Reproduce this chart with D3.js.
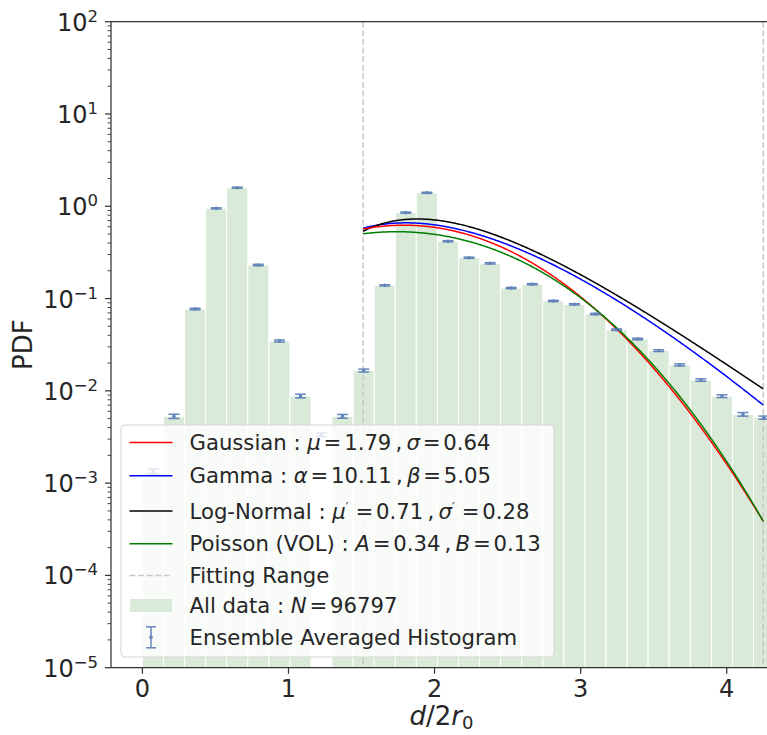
<!DOCTYPE html>
<html>
<head>
<meta charset="utf-8">
<script src="https://cdn.jsdelivr.net/npm/d3@7"></script>
<style>
  body { margin: 0; background: #ffffff; }
  svg { display: block; }
  text { font-family: "DejaVu Sans", sans-serif; fill: #262626; }
</style>
</head>
<body>
<svg id="chart" width="767" height="735"></svg>
<script>
// ---- histogram bins (left edges, d/2r0) ----
const binLeft = [0.000, 0.144, 0.289, 0.433, 0.577, 0.721, 0.866, 1.010, 1.154, 1.298,
                 1.443, 1.587, 1.731, 1.875, 2.020, 2.164, 2.308, 2.452, 2.597, 2.741,
                 2.885, 3.029, 3.174, 3.318, 3.462, 3.606, 3.751, 3.895, 4.039, 4.183];
const binWidth = 0.14425;

// all-data histogram (PDF); 0 = empty bin
const allData = [0.00134, 0.0053, 0.077, 0.95, 1.59, 0.231, 0.0347, 0.0088, 0, 0.0053,
                 0.0166, 0.139, 0.853, 1.40, 0.418, 0.277, 0.241, 0.130, 0.143, 0.0942,
                 0.0866, 0.068, 0.046, 0.0365, 0.0273, 0.0191, 0.0131, 0.00875, 0.00557, 0.00513];

// ensemble averaged histogram and its spread
const ensembleMean = [0.00134, 0.0053, 0.077, 0.95, 1.59, 0.231, 0.0347, 0.0088, 0.00335, 0.0053,
                      0.0166, 0.139, 0.853, 1.40, 0.418, 0.277, 0.241, 0.130, 0.143, 0.0942,
                      0.0866, 0.068, 0.046, 0.0365, 0.0273, 0.0191, 0.0131, 0.00875, 0.00557, 0.00513];
const ensembleErr = [0.00008, 0.00028, 0.0015, 0.012, 0.02, 0.004, 0.0009, 0.0004, 0.00015, 0.00025,
                     0.0006, 0.002, 0.012, 0.018, 0.006, 0.004, 0.004, 0.002, 0.002, 0.0015,
                     0.0013, 0.0011, 0.0008, 0.0007, 0.0006, 0.0005, 0.0004, 0.0003, 0.00025, 0.0002];

// fitting range and fitted parameters
const fitRange = [1.511, 4.25];
const gaussParams = [1.79, 0.64];        // mu, sigma
const gammaParams = [10.11, 5.05];       // alpha, beta (rate)
const logNormParams = [0.71, 0.28];      // mu', sigma'
const poissonParams = [0.34, 0.126];     // A, B
const sampleCount = 96797;

// axis ticks
const xTicks = [0, 1, 2, 3, 4];
const yTickExponents = [-5, -4, -3, -2, -1, 0, 1, 2];

// ---- layout ----
const plot = { left: 111, right: 772, top: 21.7, bottom: 667.7 };
const svg = d3.select("#chart");

const x = d3.scaleLinear().domain([-0.215, 4.31]).range([plot.left, plot.right]);
const y = d3.scaleLog().domain([1e-5, 1e2]).range([plot.bottom, plot.top]);

svg.append("defs").append("clipPath").attr("id", "plot-clip")
  .append("rect")
  .attr("x", plot.left).attr("y", plot.top)
  .attr("width", plot.right - plot.left).attr("height", plot.bottom - plot.top);

const area = svg.append("g").attr("clip-path", "url(#plot-clip)");

// ---- bars ----
const barFill = "#d9ead9";
area.append("g").selectAll("rect")
  .data(allData.map((v, i) => ({ v, x0: binLeft[i] })).filter(d => d.v > 0))
  .join("rect")
  .attr("x", d => x(d.x0))
  .attr("width", d => x(d.x0 + binWidth) - x(d.x0))
  .attr("y", d => y(d.v))
  .attr("height", d => plot.bottom - y(d.v))
  .attr("fill", barFill)
  .attr("stroke", "#ffffff")
  .attr("stroke-width", 1);

// ---- fitting range markers ----
const rangeColor = "#c8c8c8";
area.append("g").selectAll("line")
  .data(fitRange)
  .join("line")
  .attr("x1", d => x(d)).attr("x2", d => x(d))
  .attr("y1", plot.top).attr("y2", plot.bottom)
  .attr("stroke", rangeColor)
  .attr("stroke-width", 1.5)
  .attr("stroke-dasharray", "6,2.6");

// ---- fitted densities ----
function lnGamma(z) {
  const g = 7;
  const c = [0.99999999999980993, 676.5203681218851, -1259.1392167224028, 771.32342877765313,
             -176.61502916214059, 12.507343278686905, -0.13857109526572012,
             9.9843695780195716e-6, 1.5056327351493116e-7];
  if (z < 0.5) return Math.log(Math.PI / Math.sin(Math.PI * z)) - lnGamma(1 - z);
  z -= 1;
  let a = c[0];
  const t = z + g + 0.5;
  for (let i = 1; i < g + 2; i++) a += c[i] / (z + i);
  return 0.5 * Math.log(2 * Math.PI) + (z + 0.5) * Math.log(t) - t + Math.log(a);
}
const gaussPdf = (v, [mu, s]) => Math.exp(-((v - mu) ** 2) / (2 * s * s)) / (s * Math.sqrt(2 * Math.PI));
const gammaPdf = (v, [a, b]) => Math.exp(a * Math.log(b) + (a - 1) * Math.log(v) - b * v - lnGamma(a));
const logNormPdf = (v, [mu, s]) => Math.exp(-((Math.log(v) - mu) ** 2) / (2 * s * s)) / (v * s * Math.sqrt(2 * Math.PI));
const poissonPdf = (v, [A, B]) => A * v * v * Math.exp(-B * v * v * v);

const xs = d3.range(0, 401).map(i => fitRange[0] + (fitRange[1] - fitRange[0]) * i / 400);
const curveLine = d3.line().x(d => x(d[0])).y(d => y(d[1]));
const curves = [
  { color: "#0000ff", f: v => gammaPdf(v, gammaParams) },
  { color: "#000000", f: v => logNormPdf(v, logNormParams) },
  { color: "#ff0000", f: v => gaussPdf(v, gaussParams) },
  { color: "#007f00", f: v => poissonPdf(v, poissonParams) }
];
area.append("g").selectAll("path")
  .data(curves)
  .join("path")
  .attr("d", c => curveLine(xs.map(v => [v, c.f(v)])))
  .attr("fill", "none")
  .attr("stroke", c => c.color)
  .attr("stroke-width", 1.5);

// ---- ensemble averaged error bars ----
const errColor = "#4c72b0";
const eb = area.append("g").attr("stroke", errColor).attr("opacity", 0.85)
  .selectAll("g")
  .data(ensembleMean.map((m, i) => ({ m, e: ensembleErr[i], xc: binLeft[i] + binWidth / 2 })))
  .join("g");
eb.append("line")
  .attr("x1", d => x(d.xc)).attr("x2", d => x(d.xc))
  .attr("y1", d => y(d.m - d.e)).attr("y2", d => y(d.m + d.e))
  .attr("stroke-width", 1.5);
eb.append("line")
  .attr("x1", d => x(d.xc) - 5.5).attr("x2", d => x(d.xc) + 5.5)
  .attr("y1", d => y(d.m - d.e)).attr("y2", d => y(d.m - d.e))
  .attr("stroke-width", 1.5);
eb.append("line")
  .attr("x1", d => x(d.xc) - 5.5).attr("x2", d => x(d.xc) + 5.5)
  .attr("y1", d => y(d.m + d.e)).attr("y2", d => y(d.m + d.e))
  .attr("stroke-width", 1.5);
eb.append("circle")
  .attr("cx", d => x(d.xc)).attr("cy", d => y(d.m))
  .attr("r", 1.8).attr("fill", errColor).attr("stroke", "none");

// ---- axes ----
const spineColor = "#333333";
const axes = svg.append("g");
axes.append("line").attr("x1", plot.left).attr("x2", plot.left).attr("y1", plot.top).attr("y2", plot.bottom)
  .attr("stroke", spineColor).attr("stroke-width", 1.25);
axes.append("line").attr("x1", plot.left).attr("x2", plot.right).attr("y1", plot.bottom).attr("y2", plot.bottom)
  .attr("stroke", spineColor).attr("stroke-width", 1.25);
axes.append("line").attr("x1", plot.left).attr("x2", plot.right).attr("y1", plot.top).attr("y2", plot.top)
  .attr("stroke", spineColor).attr("stroke-width", 1.25);

const tickFont = 24;

// x ticks
const xAxis = axes.append("g");
xAxis.selectAll("line").data(xTicks).join("line")
  .attr("x1", d => x(d)).attr("x2", d => x(d))
  .attr("y1", plot.bottom).attr("y2", plot.bottom + 6)
  .attr("stroke", spineColor).attr("stroke-width", 1.25);
xAxis.selectAll("text").data(xTicks).join("text")
  .attr("x", d => x(d)).attr("y", plot.bottom + 29)
  .attr("text-anchor", "middle")
  .attr("font-size", tickFont)
  .text(d => d3.format("d")(d));

// y ticks (major + minor)
const yAxis = axes.append("g");
yAxis.selectAll("line.major").data(yTickExponents).join("line")
  .attr("class", "major")
  .attr("x1", plot.left - 6).attr("x2", plot.left)
  .attr("y1", d => y(10 ** d)).attr("y2", d => y(10 ** d))
  .attr("stroke", spineColor).attr("stroke-width", 1.25);
const minorVals = [];
yTickExponents.slice(0, -1).forEach(k => { for (let m = 2; m <= 9; m++) minorVals.push(m * 10 ** k); });
yAxis.selectAll("line.minor").data(minorVals).join("line")
  .attr("class", "minor")
  .attr("x1", plot.left - 3.5).attr("x2", plot.left)
  .attr("y1", d => y(d)).attr("y2", d => y(d))
  .attr("stroke", spineColor).attr("stroke-width", 0.9);
const yLab = yAxis.selectAll("text").data(yTickExponents).join("text")
  .attr("x", plot.left - 13).attr("y", d => y(10 ** d) + 9)
  .attr("text-anchor", "end")
  .attr("font-size", tickFont);
yLab.append("tspan").text("10");
yLab.append("tspan").attr("dy", -9).attr("font-size", 16.5)
  .text(d => (d < 0 ? "\u2212" : "") + Math.abs(d));

// axis titles
svg.append("text")
  .attr("transform", `translate(32,${(plot.top + plot.bottom) / 2}) rotate(-90)`)
  .attr("text-anchor", "middle")
  .attr("font-size", 26)
  .text("PDF");
const xTitle = svg.append("text")
  .attr("x", 441.5).attr("y", 725)
  .attr("text-anchor", "middle")
  .attr("font-size", 26);
xTitle.append("tspan").attr("font-style", "italic").text("d");
xTitle.append("tspan").text("/2");
xTitle.append("tspan").attr("font-style", "italic").text("r");
xTitle.append("tspan").attr("dy", 4).attr("font-size", 18).text("0");

// ---- legend ----
const f2 = d3.format(".2f");
const SEP = "\u2009,\u2009";
// segment styles: "i" italic symbol, "p" raised prime, "eq" padded equals sign
const legendRows = [
  { kind: "line", color: "#ff0000",
    segs: [["Gaussian : "], ["\u03bc", "i"], ["=", "eq"], [f2(gaussParams[0]) + SEP], ["\u03c3", "i"], ["=", "eq"], [f2(gaussParams[1])]] },
  { kind: "line", color: "#0000ff",
    segs: [["Gamma : "], ["\u03b1", "i"], ["=", "eq"], [f2(gammaParams[0]) + SEP], ["\u03b2", "i"], ["=", "eq"], [f2(gammaParams[1])]] },
  { kind: "line", color: "#000000",
    segs: [["Log-Normal : "], ["\u03bc", "i"], ["\u2032", "p"], ["\u2009"], ["=", "eq"], [f2(logNormParams[0]) + SEP], ["\u03c3", "i"], ["\u2032", "p"], ["\u2009"], ["=", "eq"], [f2(logNormParams[1])]] },
  { kind: "line", color: "#007f00",
    segs: [["Poisson (VOL) : "], ["A", "i"], ["=", "eq"], [f2(poissonParams[0]) + SEP], ["B", "i"], ["=", "eq"], [f2(poissonParams[1])]] },
  { kind: "dash", color: rangeColor, segs: [["Fitting Range"]] },
  { kind: "patch", color: barFill, segs: [["All data : "], ["N", "i"], ["=", "eq"], [String(sampleCount)]] },
  { kind: "err", color: errColor, segs: [["Ensemble Averaged Histogram"]] }
];
const rowY = [442.5, 475.7, 511, 543.8, 575.5, 605.5, 637.3];

const legend = svg.append("g");
legend.append("rect")
  .attr("x", 121).attr("y", 425).attr("width", 433).attr("height", 232)
  .attr("rx", 4)
  .attr("fill", "#ffffff").attr("fill-opacity", 0.8)
  .attr("stroke", "#d6d6d6").attr("stroke-width", 1);

const rows = legend.selectAll("g.row").data(legendRows).join("g")
  .attr("class", "row")
  .attr("transform", (d, i) => `translate(0,${rowY[i]})`);

rows.filter(d => d.kind === "line").append("line")
  .attr("x1", 129.5).attr("x2", 172.5).attr("y1", 0).attr("y2", 0)
  .attr("stroke", d => d.color).attr("stroke-width", 1.5);
rows.filter(d => d.kind === "dash").append("line")
  .attr("x1", 129.5).attr("x2", 172.5).attr("y1", 0).attr("y2", 0)
  .attr("stroke", d => d.color).attr("stroke-width", 1.5).attr("stroke-dasharray", "6,2.6");
rows.filter(d => d.kind === "patch").append("rect")
  .attr("x", 130).attr("y", -6.5).attr("width", 42).attr("height", 13)
  .attr("fill", d => d.color);
const errKey = rows.filter(d => d.kind === "err").append("g")
  .attr("stroke", errColor).attr("stroke-width", 1.5).attr("opacity", 0.85);
errKey.append("line").attr("x1", 151).attr("x2", 151).attr("y1", -10.5).attr("y2", 10.5);
errKey.append("line").attr("x1", 146).attr("x2", 156).attr("y1", -10.5).attr("y2", -10.5);
errKey.append("line").attr("x1", 146).attr("x2", 156).attr("y1", 10.5).attr("y2", 10.5);
errKey.append("circle").attr("cx", 151).attr("cy", 0).attr("r", 1.8).attr("fill", errColor).attr("stroke", "none");

const labels = rows.append("text")
  .attr("x", 189.5).attr("y", 7.5)
  .attr("font-size", 21.2)
  .attr("xml:space", "preserve");
labels.each(function (d) {
  const t = d3.select(this);
  let pendingDy = 0, pendingDx = 0;
  d.segs.forEach(([s, style]) => {
    const ts = t.append("tspan").text(s);
    let dx = pendingDx, dy = pendingDy;
    pendingDx = 0; pendingDy = 0;
    if (style === "p") {
      dy -= 8;
      pendingDy = 8;
      ts.attr("font-size", 12);
    } else if (style === "eq") {
      dx += 2.8;
      pendingDx = 2.8;
    } else if (style === "i") {
      ts.attr("font-style", "italic");
    }
    if (dx) ts.attr("dx", dx);
    if (dy) ts.attr("dy", dy);
  });
});
</script>
</body>
</html>
